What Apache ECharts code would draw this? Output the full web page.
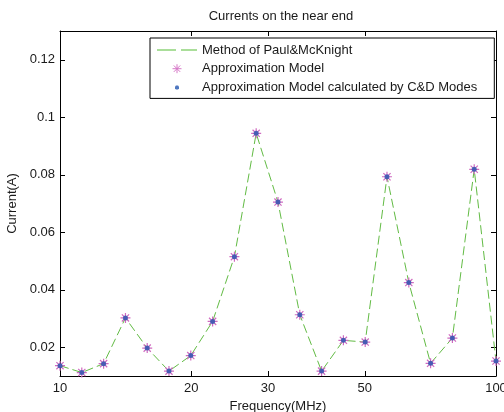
<!DOCTYPE html>
<html>
<head>
<meta charset="utf-8">
<script src="https://cdn.jsdelivr.net/npm/echarts@6/dist/echarts.min.js"></script>
<style>html,body{margin:0;padding:0;background:#fff;}#c{width:504px;height:412px;}</style>
</head>
<body>
<div id="c"></div>
<script>
var frequencies = [10, 11.22, 12.59, 14.13, 15.85, 17.78, 19.95, 22.39, 25.12, 28.18, 31.62, 35.48, 39.81, 44.67, 50.12, 56.23, 63.10, 70.79, 79.43, 89.13, 100];
var paulMcKnight = [0.0136, 0.0112, 0.0143, 0.0302, 0.0197, 0.0117, 0.0171, 0.0290, 0.0515, 0.0944, 0.0705, 0.0313, 0.0117, 0.0224, 0.0218, 0.0793, 0.0425, 0.0144, 0.0232, 0.0819, 0.0152];
var approxModel = [0.0136, 0.0112, 0.0143, 0.0302, 0.0197, 0.0117, 0.0171, 0.0290, 0.0515, 0.0944, 0.0705, 0.0313, 0.0117, 0.0224, 0.0218, 0.0793, 0.0425, 0.0144, 0.0232, 0.0819, 0.0152];
var cdModes = [0.0136, 0.0112, 0.0143, 0.0302, 0.0197, 0.0117, 0.0171, 0.0290, 0.0515, 0.0944, 0.0705, 0.0313, 0.0117, 0.0224, 0.0218, 0.0793, 0.0425, 0.0144, 0.0232, 0.0819, 0.0152];
var xTicks = [10, 20, 30, 50, 100];
var yTicks = [0.02, 0.04, 0.06, 0.08, 0.1, 0.12];
var seriesNames = ['Method of Paul&McKnight', 'Approximation Model', 'Approximation Model calculated by C&D Modes'];

function pairs(ys) { return frequencies.map(function (f, i) { return [f, ys[i]]; }); }
var FONT = 'Liberation Sans, Arial, sans-serif';
var txt = '#1a1a1a';
var star = 'path://M0,-5L0,5M-5,0L5,0M-3.6,-3.6L3.6,3.6M-3.6,3.6L3.6,-3.6';
var legendStar = 'path://M-6,-6M6,6M0,-4.5L0,4.5M-4.5,0L4.5,0M-3.2,-3.2L3.2,3.2M-3.2,3.2L3.2,-3.2';
var legendDot = 'path://M-6,-6M6,6M-2,-1L-1,-2L1,-2L2,-1L2,1L1,2L-1,2L-2,1Z';
var legendDash = 'path://M0,0L19,0L19,1.4L0,1.4ZM24,0L40,0L40,1.4L24,1.4Z';

var chart = echarts.init(document.getElementById('c'), null, {renderer: 'canvas'});
function xAxisCfg(pos, showLabel) {
  return {
    type: 'log', logBase: 10, min: 10, max: 100, position: pos,
    axisLine: {show: true, lineStyle: {color: '#000', width: 1}},
    axisTick: {show: true, inside: true, length: 5, customValues: xTicks, lineStyle: {color: '#000'}},
    axisLabel: {show: showLabel, customValues: xTicks, color: txt, fontFamily: FONT, fontSize: 13, margin: 6, formatter: function (v) { return String(Math.round(v)); }},
    splitLine: {show: false},
    minorTick: {show: false}
  };
}
function yAxisCfg(pos, showLabel) {
  return {
    type: 'value', min: 0.01, max: 0.13, position: pos,
    axisLine: {show: true, lineStyle: {color: '#000', width: 1}},
    axisTick: {show: true, inside: true, length: 5, customValues: yTicks, lineStyle: {color: '#000'}},
    axisLabel: {show: showLabel, customValues: yTicks, color: txt, fontFamily: FONT, fontSize: 13, margin: 5, formatter: function (v) { return String(+v.toFixed(2)); }},
    splitLine: {show: false}
  };
}
var xb = xAxisCfg('bottom', true);
xb.name = 'Frequency(MHz)'; xb.nameLocation = 'middle'; xb.nameGap = 24;
xb.nameTextStyle = {color: txt, fontFamily: FONT, fontSize: 13};
var yl = yAxisCfg('left', true);
yl.name = 'Current(A)'; yl.nameLocation = 'middle'; yl.nameGap = 33;
yl.nameTextStyle = {color: txt, fontFamily: FONT, fontSize: 13};

chart.setOption({
  animation: false,
  backgroundColor: '#fff',
  title: {text: 'Currents on the near end', left: 276, textAlign: 'center', top: 5,
    textStyle: {color: txt, fontFamily: FONT, fontSize: 13, fontWeight: 'normal'}},
  grid: {left: 60, right: 8, top: 31, bottom: 36, containLabel: false, outerBoundsMode: 'none'},
  legend: {
    show: true,
    orient: 'vertical', left: 150, top: 38,
    backgroundColor: '#fff', borderColor: '#000', borderWidth: 1,
    padding: [5, 17, 4, 7], itemGap: 4.7, itemWidth: 40, itemHeight: 12,
    textStyle: {color: txt, fontFamily: FONT, fontSize: 13, lineHeight: 14},
    data: [
      {name: seriesNames[0], icon: legendDash, itemStyle: {color: '#8fd47a', borderWidth: 0}},
      {name: seriesNames[1], icon: legendStar, itemStyle: {color: 'rgba(0,0,0,0)', borderColor: '#d779c8', borderWidth: 1}},
      {name: seriesNames[2], icon: legendDot, itemStyle: {color: '#2456b0', borderWidth: 0}}
    ]
  },
  xAxis: [xb, xAxisCfg('top', false)],
  yAxis: [yl, yAxisCfg('right', false)],
  series: [
    {name: seriesNames[0], type: 'line', data: pairs(paulMcKnight), showSymbol: false, symbol: 'none',
      lineStyle: {color: '#62bb44', width: 1, type: [9, 4]}, itemStyle: {color: '#62bb44'}, z: 2},
    {name: seriesNames[1], type: 'scatter', data: pairs(approxModel), symbol: star, symbolSize: 10,
      itemStyle: {color: 'rgba(0,0,0,0)', borderColor: '#d06ac0', borderWidth: 1.2, opacity: 1}, z: 3},
    {name: seriesNames[2], type: 'scatter', data: pairs(cdModes), symbol: 'circle', symbolSize: 5,
      itemStyle: {color: '#2456b0'}, z: 4}
  ]
});
</script>
</body>
</html>
